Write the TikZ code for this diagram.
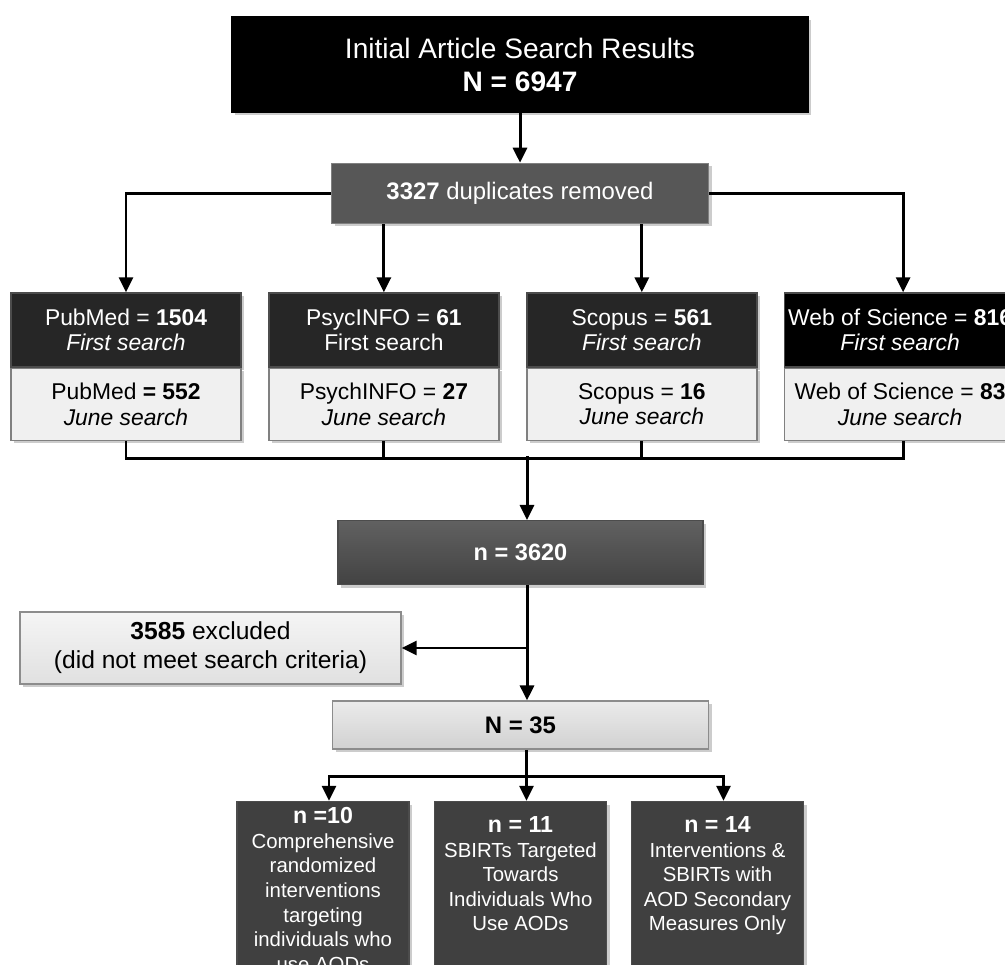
\documentclass[tikz,border=0pt]{standalone}
\usepackage{fontspec}
\setmainfont{Liberation Sans}
\usetikzlibrary{arrows.meta, positioning, shadows}

\begin{document}
\begin{tikzpicture}[
    node distance=0.5cm and 0.265cm,
    box/.style={rectangle, draw=black!70, inner sep=1pt, text=white,
        drop shadow={shadow xshift=0.03cm, shadow yshift=-0.03cm, fill=black, opacity=0.2}},
    srcbox/.style={box, align=center, fill=black!85, minimum width=2.3cm, minimum height=0.74cm,
        font=\fontsize{6.5}{7.2}\selectfont},
    junebox/.style={srcbox, fill=black!6, draw=black!50, text=black, minimum height=0.72cm},
    outbox/.style={box, fill=black!75, inner xsep=0pt, inner ysep=0.15cm,
        font=\fontsize{5.8}{7.0}\selectfont,
        execute at begin node={\begin{minipage}[t][1.8cm][t]{1.72cm}\centering},
        execute at end node={\end{minipage}}},
    arrow/.style={-{Triangle[length=0.15cm, width=0.14cm]}, line width=0.85pt},
    line/.style={line width=0.85pt}
]
\useasboundingbox[fill=white] (0,0) rectangle (10.05,-9.65);

% Search results
\node[box, align=center, fill=black, draw=black, minimum width=5.76cm, minimum height=0.95cm,
    font=\fontsize{8}{9.4}\selectfont] (title) at (5.2,-0.645)
    {Initial Article Search Results\\\textbf{N = 6947}};
\node[box, fill=black!66, draw=black!50, minimum width=3.77cm, minimum height=0.6cm,
    font=\fontsize{6.8}{8}\selectfont, below=of title] (dup)
    {\textbf{3327} duplicates removed};

% Databases: first and June search
\node[srcbox] (pm1) at (1.26,-3.30) {PubMed = \textbf{1504}\\\textit{First search}};
\node[srcbox, right=of pm1] (psy1) {PsycINFO = \textbf{61}\\First search};
\node[srcbox, right=of psy1] (sco1) {Scopus = \textbf{561}\\\textit{First search}};
\node[srcbox, fill=black, right=of sco1] (wos1)
    {Web of Science = \textbf{816}\\\textit{First search}};
\node[junebox, below=0cm of pm1] (pm2) {PubMed \textbf{= 552}\\\textit{June search}};
\node[junebox, below=0cm of psy1] (psy2) {PsychINFO = \textbf{27}\\\textit{June search}};
\node[junebox, below=0cm of sco1] (sco2) {Scopus = \textbf{16}\\\textit{June search}};
\node[junebox, minimum width=2.31cm, below=0cm of wos1] (wos2)
    {Web of Science = \textbf{83}\\\textit{June search}};

\coordinate (jn) at ([yshift=-0.17cm]pm2.south);
\coordinate (trunk) at (5.27,-4.56);

% Screening
\node[box, align=center, minimum width=3.65cm, minimum height=0.64cm, top color=black!62, bottom color=black!74,
    font=\fontsize{6.7}{8}\selectfont, below=0.64cm of trunk, xshift=-0.065cm] (n3620)
    {\textbf{n = 3620}};
\node[box, align=center, minimum width=3.76cm, minimum height=0.48cm, top color=black!8, bottom color=black!18,
    draw=black!45, text=black, font=\fontsize{6.8}{8}\selectfont, below=1.15cm of n3620] (n35)
    {\textbf{N = 35}};
\node[box, align=center, minimum width=3.81cm, minimum height=0.72cm, top color=black!4, bottom color=black!12,
    draw=black!45, text=black, font=\fontsize{7}{8.3}\selectfont] (excl) at (2.105,-6.48)
    {\textbf{3585} excluded\\(did not meet search criteria)};

% Included studies
\node[outbox, below=0.51cm of n35] (out2)
    {{\fontsize{6.6}{7.4}\selectfont\bfseries n = 11}\\SBIRTs Targeted\\Towards\\Individuals Who\\Use AODs};
\node[outbox, inner ysep=0.06cm, below=0.51cm of n35, xshift=-1.975cm] (out1)
    {{\fontsize{6.6}{7.4}\selectfont\bfseries n =10}\\Comprehensive\\randomized\\interventions\\targeting\\individuals who\\use AODs};
\node[outbox, below=0.51cm of n35, xshift=1.97cm] (out3)
    {{\fontsize{6.6}{7.4}\selectfont\bfseries n = 14}\\Interventions \&\\SBIRTs with\\AOD Secondary\\Measures Only};

% Arrows
\draw[arrow] (title) -- (dup);
\draw[arrow] (dup.west) -| (pm1);
\draw[arrow] (dup.east) -| ([xshift=0.03cm]wos1.north);
\draw[arrow] (dup.south -| psy1) -- (psy1);
\draw[arrow] (dup.south -| sco1) -- (sco1);
\draw[line] (pm2.south) -- (jn) -| ([xshift=0.03cm]wos2.south);
\draw[line] (psy2.south) -- (psy2.south |- jn);
\draw[line] (sco2.south) -- (sco2.south |- jn);
\draw[arrow] (trunk) -- (trunk |- n3620.north);

\coordinate (mid) at ([xshift=0.065cm]n3620.south);
\draw[arrow] (mid) -- (mid |- n35.north);
\draw[arrow] (mid |- excl.east) -- (excl.east);

\coordinate (low) at ([xshift=0.06cm]n35.south);
\coordinate (split) at ([yshift=-0.27cm]low);
\draw[arrow] (low) -- ([xshift=0.06cm]out2.north);
\draw[arrow] (split) -| ([xshift=0.06cm]out1.north);
\draw[arrow] (split) -| ([xshift=0.06cm]out3.north);

\end{tikzpicture}
\end{document}
